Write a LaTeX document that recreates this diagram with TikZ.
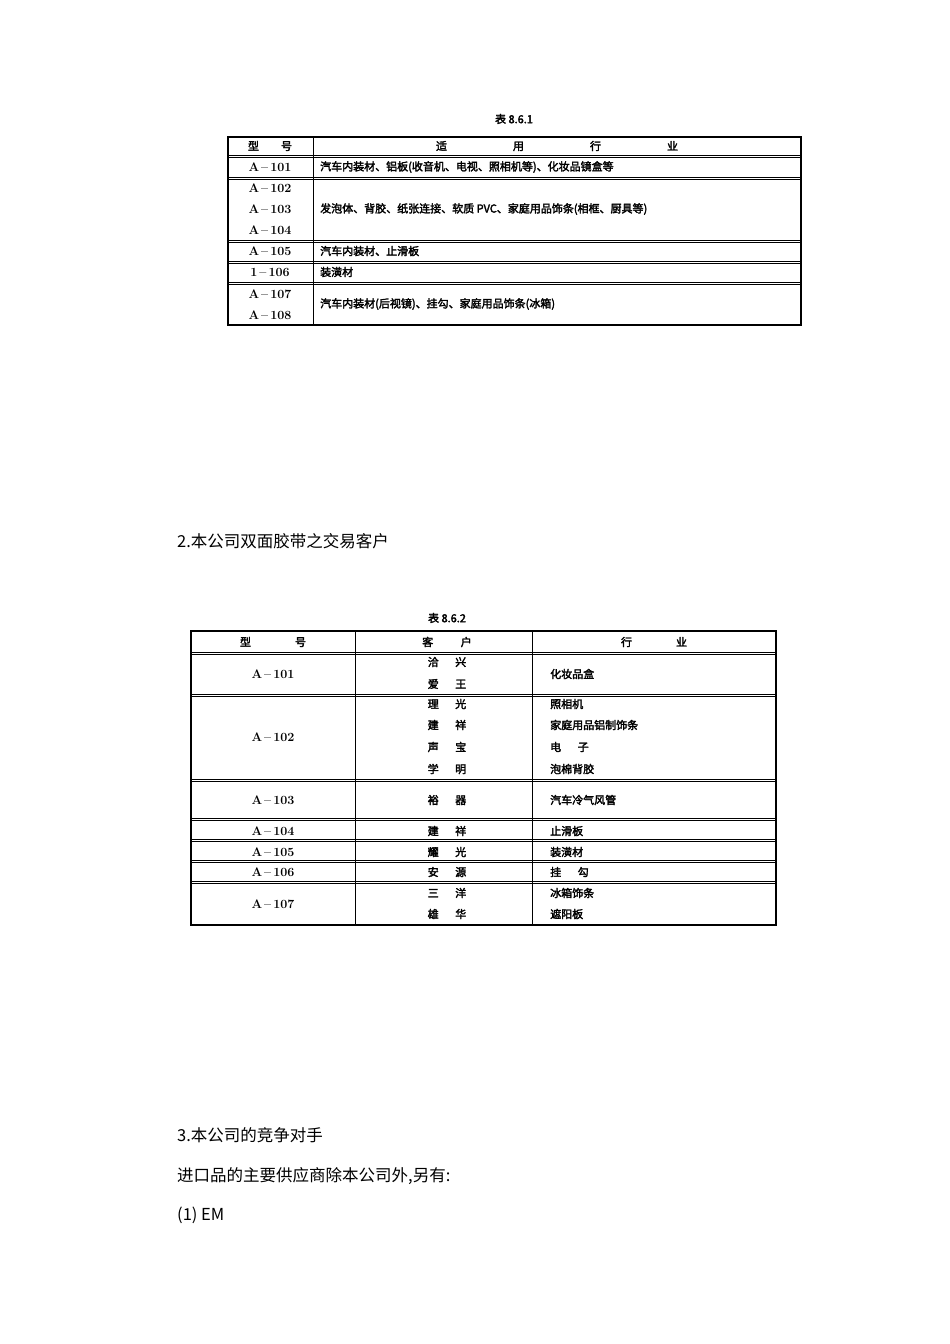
\documentclass[tikz,border=0pt]{standalone}
\usepackage{fontspec}
\newfontfamily\cjk[AutoFakeBold=2.5]{Noto Sans CJK SC}
\newfontfamily\cjkr{Noto Sans CJK SC}
\newcommand\mdl[1]{\textrm{\bfseries\fontsize{12.5}{13}\selectfont A\,--\,#1}}
\begin{document}
\begin{tikzpicture}[x=1pt,y=-1pt,
  t/.style={font=\cjk\bfseries\fontsize{11}{12}\selectfont,inner sep=0pt},
  tl/.style={t,anchor=west},
  body/.style={font=\cjkr\fontsize{16.5}{18}\selectfont,anchor=west,inner sep=0pt},
  ln/.style={line width=1pt}]
\useasboundingbox (0,0) rectangle (950,1344);
% Table 1
\node[t] (c1) at (514,119) {表 8.6.1};
\draw[ln,line width=1.3pt] (228,137) rectangle (801,325);
\draw[ln] (313,137) -- (313,325);
\foreach \y in {155,157,177,179,240,242,261,263,282,284} \draw[ln] (228,\y) -- (801,\y);
\node[t] (h1) at (270,146) {型\hspace{2em}号};
\node[t] (h2) at (557,146) {适\hspace{6em}用\hspace{6em}行\hspace{6em}业};
\node[t] (r1a) at (270,167) {\mdl{101}};
\node[tl] (r1b) at (320,167) {汽车内装材、铝板(收音机、电视、照相机等)、化妆品镜盒等};
\node[t] (r2a) at (270,188) {\mdl{102}};
\node[t] (r2b) at (270,209) {\mdl{103}};
\node[t] (r2c) at (270,230) {\mdl{104}};
\node[tl] (r2d) at (320,209) {发泡体、背胶、纸张连接、软质 PVC、家庭用品饰条(相框、厨具等)};
\node[t] (r3a) at (270,251) {\mdl{105}};
\node[tl] (r3b) at (320,251) {汽车内装材、止滑板};
\node[t] (r4a) at (270,272) {\textrm{\bfseries\fontsize{12.5}{13}\selectfont 1\,--\,106}};
\node[tl] (r4b) at (320,272) {装潢材};
\node[t] (r5a) at (270,294) {\mdl{107}};
\node[t] (r5b) at (270,315) {\mdl{108}};
\node[tl] (r5c) at (320,304) {汽车内装材(后视镜)、挂勾、家庭用品饰条(冰箱)};
% Section 2
\node[body] (s2) at (177,541) {2.本公司双面胶带之交易客户};
% Table 2
\node[t] (c2) at (447,618) {表 8.6.2};
\draw[ln,line width=1.3pt] (191,631) rectangle (776,925);
\draw[ln] (355,631) -- (355,925);
\draw[ln] (532,631) -- (532,925);
\foreach \y in {652,654,694,696,779,781,818,820,839,841,860,862,881,883} \draw[ln] (191,\y) -- (776,\y);
\node[t] (g1) at (273,642) {型\hspace{4em}号};
\node[t] (g2) at (447,642) {客\hspace{2.5em}户};
\node[t] (g3) at (654,642) {行\hspace{4em}业};
\node[t] (a1) at (273,674) {\mdl{101}};
\node[t] (b1) at (447,662) {洽\hspace{1.5em}兴};
\node[t] (b2) at (447,684) {爱\hspace{1.5em}王};
\node[tl] (d1) at (550,674) {化妆品盒};
\node[t] (a2) at (273,737) {\mdl{102}};
\node[t] (b3) at (447,704) {理\hspace{1.5em}光};
\node[t] (b4) at (447,725) {建\hspace{1.5em}祥};
\node[t] (b5) at (447,747) {声\hspace{1.5em}宝};
\node[t] (b6) at (447,769) {学\hspace{1.5em}明};
\node[tl] (d2) at (550,704) {照相机};
\node[tl] (d3) at (550,725) {家庭用品铝制饰条};
\node[tl] (d4) at (550,747) {电\hspace{1.5em}子};
\node[tl] (d5) at (550,769) {泡棉背胶};
\node[t] (a3) at (273,800) {\mdl{103}};
\node[t] (b7) at (447,800) {裕\hspace{1.5em}器};
\node[tl] (d6) at (550,800) {汽车冷气风管};
\node[t] (a4) at (273,831) {\mdl{104}};
\node[t] (b8) at (447,831) {建\hspace{1.5em}祥};
\node[tl] (d7) at (550,831) {止滑板};
\node[t] (a5) at (273,852) {\mdl{105}};
\node[t] (b9) at (447,852) {耀\hspace{1.5em}光};
\node[tl] (d8) at (550,852) {装潢材};
\node[t] (a6) at (273,872) {\mdl{106}};
\node[t] (b10) at (447,872) {安\hspace{1.5em}源};
\node[tl] (d9) at (550,872) {挂\hspace{1.5em}勾};
\node[t] (a7) at (273,904) {\mdl{107}};
\node[t] (b11) at (447,893) {三\hspace{1.5em}洋};
\node[t] (b12) at (447,914) {雄\hspace{1.5em}华};
\node[tl] (d10) at (550,893) {冰箱饰条};
\node[tl] (d11) at (550,914) {遮阳板};
% Section 3
\node[body] (s3) at (177,1135) {3.本公司的竞争对手};
\node[body] (s4) at (177,1176) {进口品的主要供应商除本公司外,另有:};
\node[body] (s5) at (177,1215) {(1) EM};
\end{tikzpicture}
\end{document}
